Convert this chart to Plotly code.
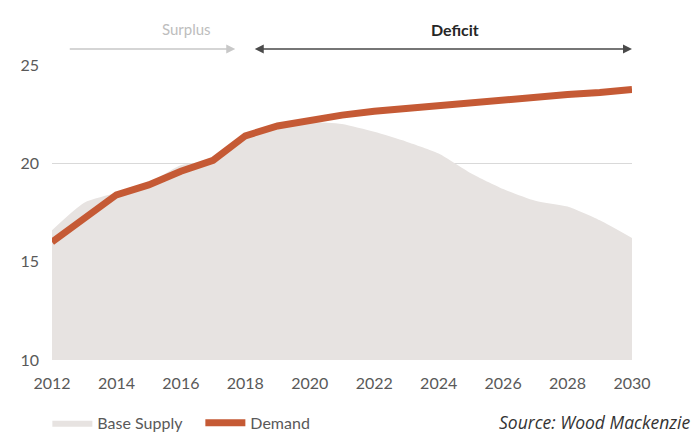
import plotly.graph_objects as go

years = list(range(2012, 2031))
base_supply = [16.6, 18.0, 18.5, 19.0, 19.9, 20.2, 21.4, 21.9, 22.1, 22.0, 21.6, 21.1,
               20.5, 19.5, 18.7, 18.1, 17.8, 17.1, 16.2]
demand = [16.0, 17.2, 18.4, 18.9, 19.6, 20.15, 21.4, 21.9, 22.2, 22.45, 22.65, 22.8,
          22.9, 23.05, 23.2, 23.35, 23.5, 23.6, 23.75]
x_ticks = list(range(2012, 2031, 2))
y_ticks = [10, 15, 20, 25]

FONT = "Lato"
fig = go.Figure()

fig.add_trace(go.Scatter(
    x=years, y=base_supply, name="Base Supply", mode="lines",
    line=dict(width=0, color="#e7e3e1", shape="spline", smoothing=0.6),
    fill="tozeroy", fillcolor="#e7e3e1",
))
fig.add_trace(go.Scatter(
    x=years, y=demand, name="Demand", mode="lines",
    line=dict(width=7, color="#c55a35"),
))

# Surplus / deficit period arrows above the plot area (axis-domain coordinates)
arrow_y = 1.054
dom = dict(xref="x domain", yref="y domain", axref="x domain", ayref="y domain")
fig.add_annotation(x=0.316, y=arrow_y, ax=0.028, ay=arrow_y, **dom, text="",
                   showarrow=True, arrowhead=2, arrowsize=1.2, arrowwidth=1.5,
                   arrowcolor="#c8c8c8")
fig.add_annotation(x=1.0, y=arrow_y, ax=0.347, ay=arrow_y, **dom, text="",
                   showarrow=True, arrowhead=2, arrowside="end+start", arrowsize=1.2,
                   arrowwidth=1.5, arrowcolor="#4a4a4a")
fig.add_annotation(x=0.186, y=1.159, xref="paper", yref="paper", text="Surplus",
                   showarrow=False, font=dict(family=FONT, size=15, color="#bdbdbd"))
fig.add_annotation(x=0.740, y=1.159, xref="paper", yref="paper", text="<b>Deficit</b>",
                   showarrow=False, font=dict(family=FONT, size=16, color="#262626"))
fig.add_annotation(x=1, y=0, xref="paper", yref="paper", yshift=-62, xshift=61,
                   xanchor="right", yanchor="middle",
                   text="<i>Source: Wood Mackenzie</i>", showarrow=False,
                   font=dict(family="Open Sans", size=17.5, color="#333333"))

fig.update_layout(
    width=695, height=435,
    margin=dict(l=52, r=63, t=65, b=75, autoexpand=False),
    paper_bgcolor="white", plot_bgcolor="white",
    font=dict(family=FONT, size=16, color="#595959"),
    showlegend=True,
    legend=dict(orientation="h", x=-0.008, y=0.028, xanchor="left", yanchor="middle",
                yref="container",
                font=dict(family=FONT, size=16, color="#595959"),
                itemwidth=40, entrywidth=98, entrywidthmode="pixels",
                tracegroupgap=0),
    xaxis=dict(range=[2012, 2030], tickvals=x_ticks, ticktext=[str(v) for v in x_ticks],
               showgrid=False, zeroline=False, showline=False, ticks="",
               ticklabelstandoff=12, automargin=False),
    yaxis=dict(range=[10, 25], tickvals=y_ticks, showgrid=True, gridcolor="#d9d9d9",
               gridwidth=1, zeroline=False, showline=False, ticks="",
               ticklabelstandoff=12, automargin=False),
)

fig.write_html("out.html")
